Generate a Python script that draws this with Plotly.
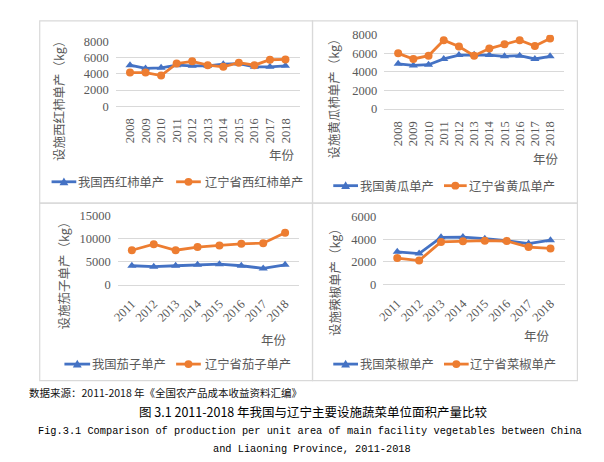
import plotly.graph_objects as go

W, H = 604, 462

years_a = [str(y) for y in range(2008, 2019)]
years_b = [str(y) for y in range(2011, 2019)]

tomato_cn = [5080, 4680, 4760, 5080, 5000, 5000, 5200, 5280, 4880, 4880, 5000]
tomato_ln = [4160, 4160, 3800, 5280, 5560, 5080, 4880, 5400, 5080, 5760, 5800]
cucumber_cn = [4870, 4690, 4770, 5390, 5810, 5840, 5810, 5670, 5740, 5390, 5670]
cucumber_ln = [5990, 5390, 5740, 7410, 6720, 5740, 6510, 6960, 7410, 6780, 7580]
eggplant_cn = [4100, 3890, 4100, 4310, 4440, 4100, 3530, 4310]
eggplant_ln = [7480, 8810, 7480, 8180, 8540, 8880, 9020, 11280]
pepper_cn = [2890, 2740, 4190, 4210, 4070, 3890, 3630, 3930]
pepper_ln = [2340, 2110, 3780, 3840, 3890, 3860, 3320, 3200]

BLUE = "#4472C4"
ORANGE = "#ED7D31"
GRID = "#d9d9d9"
TXT = "#595959"
CJK = "Noto Sans CJK SC"
SERIF = "Liberation Serif, Times New Roman, serif"


def px(x):
    return x / W


def py(y):
    return 1 - y / H


panels = [
    dict(cats=years_a, cn=tomato_cn, ln=tomato_ln,
         lcn="我国西红柿单产", lln="辽宁省西红柿单产", ytitle="设施西红柿单产（kg）",
         ymax=8000, dtick=2000, xd=(102, 288), yd=(94, 27.5), angle=-90,
         ytpos=(44, 85), xtpos=(270, 144), leg=(172, 37, 62, 63, 163, 188, 191)),
    dict(cats=years_a, cn=cucumber_cn, ln=cucumber_ln,
         lcn="我国黄瓜单产", lln="辽宁省黄瓜单产", ytitle="设施黄瓜柿单产（kg）",
         ymax=8000, dtick=2000, xd=(373.5, 555.5), yd=(97, 20.3), angle=-90,
         ytpos=(322, 83), xtpos=(537, 148), leg=(176, 322, 347, 348, 434, 457, 458)),
    dict(cats=years_b, cn=eggplant_cn, ln=eggplant_ln,
         lcn="我国茄子单产", lln="辽宁省茄子单产", ytitle="设施茄子单产（kg）",
         ymax=15000, dtick=5000, xd=(104, 287.5), yd=(278, 207), angle=-45,
         ytpos=(50, 265), xtpos=(262, 335), leg=(360, 50, 76, 77, 163, 188, 191)),
    dict(cats=years_b, cn=pepper_cn, ln=pepper_ln,
         lcn="我国菜椒单产", lln="辽宁省菜椒单产", ytitle="设施辣椒单产（kg）",
         ymax=6000, dtick=2000, xd=(372.5, 556), yd=(277.7, 208.3), angle=-45,
         ytpos=(324, 272), xtpos=(528, 330), leg=(360, 322, 347, 348, 434, 459, 459)),
]

fig = go.Figure()
shapes = []
annotations = []
layout = {}

for i, p in enumerate(panels, start=1):
    xa = "x" if i == 1 else f"x{i}"
    ya = "y" if i == 1 else f"y{i}"
    xk = "xaxis" if i == 1 else f"xaxis{i}"
    yk = "yaxis" if i == 1 else f"yaxis{i}"
    fig.add_trace(go.Scatter(x=p["cats"], y=p["cn"], xaxis=xa, yaxis=ya, mode="lines+markers",
                             name=p["lcn"], line=dict(color=BLUE, width=2.8),
                             marker=dict(symbol="triangle-up", size=8, color=BLUE),
                             showlegend=False))
    fig.add_trace(go.Scatter(x=p["cats"], y=p["ln"], xaxis=xa, yaxis=ya, mode="lines+markers",
                             name=p["lln"], line=dict(color=ORANGE, width=2.8),
                             marker=dict(symbol="circle", size=8, color=ORANGE),
                             showlegend=False))
    layout[xk] = dict(domain=[px(p["xd"][0]), px(p["xd"][1])], anchor=ya, type="category",
                      showgrid=False, showline=True, linecolor=GRID, linewidth=1.3,
                      ticks="", tickangle=p["angle"], fixedrange=True,
                      tickfont=dict(family=SERIF, size=12.5, color=TXT), ticklabelstandoff=6)
    layout[yk] = dict(domain=[py(p["yd"][0]), py(p["yd"][1])], anchor=xa,
                      range=[0, p["ymax"]], dtick=p["dtick"], tickformat="d",
                      showgrid=True, gridcolor=GRID,
                      gridwidth=1.3, zeroline=False, showline=False, ticks="",
                      tickfont=dict(family=SERIF, size=12.5, color=TXT), ticklabelstandoff=6)
    annotations.append(dict(x=px(p["ytpos"][0]), y=py(p["ytpos"][1]), xref="paper", yref="paper",
                            text=p["ytitle"], textangle=-90, showarrow=False,
                            xanchor="center", yanchor="middle",
                            font=dict(family=CJK, size=12.5, color=TXT)))
    annotations.append(dict(x=px(p["xtpos"][0]), y=py(p["xtpos"][1]), xref="paper", yref="paper",
                            text="年份", showarrow=False, xanchor="center", yanchor="middle",
                            font=dict(family=CJK, size=12.5, color=TXT)))
    ly, a1, a2, t1, b1, b2, t2 = p["leg"]
    for (s, e, t, col, lab, sym) in [(a1, a2, t1, BLUE, p["lcn"], "tri"),
                                     (b1, b2, t2, ORANGE, p["lln"], "cir")]:
        shapes.append(dict(type="line", xref="paper", yref="paper", x0=px(s), x1=px(e),
                           y0=py(ly), y1=py(ly), line=dict(color=col, width=2.8)))
        cx = (s + e) / 2
        if sym == "tri":
            path = (f"M {px(cx - 4.5)} {py(ly + 3.5)} L {px(cx + 4.5)} {py(ly + 3.5)} "
                    f"L {px(cx)} {py(ly - 4.5)} Z")
            shapes.append(dict(type="path", xref="paper", yref="paper", path=path,
                               fillcolor=col, line=dict(color=col, width=0)))
        else:
            shapes.append(dict(type="circle", xref="paper", yref="paper",
                               x0=px(cx - 4), x1=px(cx + 4), y0=py(ly + 4), y1=py(ly - 4),
                               fillcolor=col, line=dict(color=col, width=0)))
        annotations.append(dict(x=px(t), y=py(ly), xref="paper", yref="paper", text=lab,
                                showarrow=False, xanchor="left", yanchor="middle", borderpad=0,
                                font=dict(family=CJK, size=12.3, color=TXT)))

for (x0, y0, x1, y1) in [(25, 6, 301, 194), (301, 6, 569, 194), (25, 194, 301, 377), (301, 194, 569, 377)]:
    shapes.append(dict(type="rect", xref="paper", yref="paper", x0=px(x0), x1=px(x1),
                       y0=py(y1), y1=py(y0), line=dict(color=GRID, width=1.2)))

annotations.append(dict(x=px(12), y=py(389), xref="paper", yref="paper",
                        text="数据来源：2011-2018 年《全国农产品成本收益资料汇编》",
                        showarrow=False, xanchor="left", yanchor="middle",
                        font=dict(family=CJK, size=10.5, color="#111111")))
annotations.append(dict(x=px(302), y=py(409), xref="paper", yref="paper",
                        text="图 3.1 2011-2018 年我国与辽宁主要设施蔬菜单位面积产量比较",
                        showarrow=False, xanchor="center", yanchor="middle",
                        font=dict(family=CJK, size=12.5, color="#000000")))
annotations.append(dict(x=px(298), y=py(429), xref="paper", yref="paper",
                        text="Fig.3.1 Comparison of production per unit area of main facility vegetables between China",
                        showarrow=False, xanchor="center", yanchor="middle",
                        font=dict(family="Liberation Mono", size=10.3, color="#000000")))
annotations.append(dict(x=px(300), y=py(448), xref="paper", yref="paper",
                        text="and Liaoning Province, 2011-2018",
                        showarrow=False, xanchor="center", yanchor="middle",
                        font=dict(family="Liberation Mono", size=10.3, color="#000000")))

fig.update_layout(width=W, height=H, margin=dict(l=0, r=0, t=0, b=0),
                  paper_bgcolor="white", plot_bgcolor="white", showlegend=False,
                  shapes=shapes, annotations=annotations, **layout)

fig.write_html("out.html", config={"displayModeBar": False})
